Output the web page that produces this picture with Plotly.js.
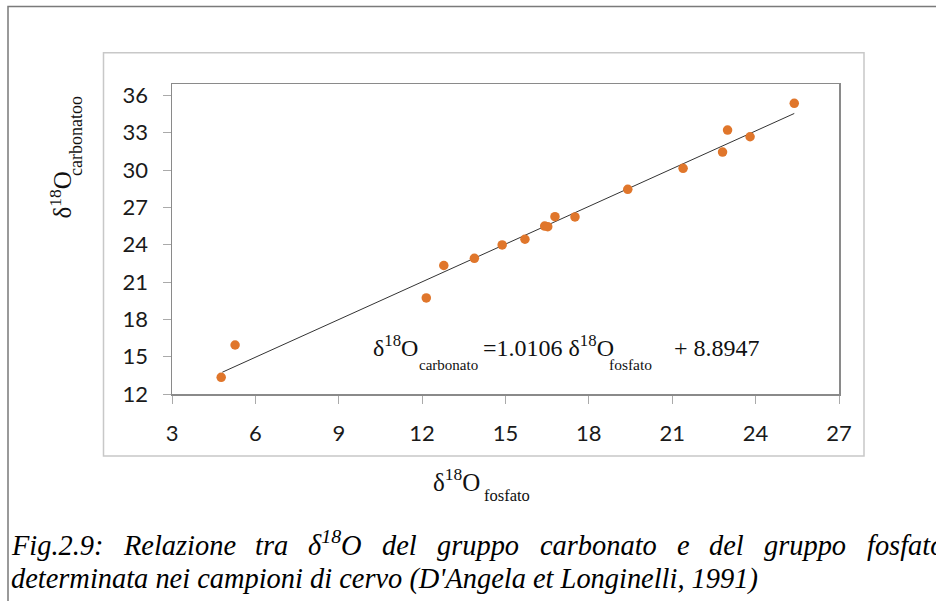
<!DOCTYPE html>
<html>
<head>
<meta charset="utf-8">
<script src="https://cdn.plot.ly/plotly-3.0.1.min.js"></script>
<style>html,body{margin:0;padding:0;background:#fff;}#chart{width:936px;height:601px;}</style>
</head>
<body>
<div id="chart"></div>
<script>
// ---- data ----
const phosphate = [4.77, 5.27, 12.15, 12.78, 13.88, 14.88, 15.70, 16.41, 16.52, 16.78, 17.50, 19.40, 21.39, 22.81, 22.99, 23.80, 25.39];
const carbonate = [13.34, 15.94, 19.72, 22.33, 22.91, 23.98, 24.44, 25.50, 25.45, 26.25, 26.23, 28.45, 30.14, 31.45, 33.22, 32.68, 35.37];
const trendX = [4.81, 25.39];
const trendY = [13.75, 34.55];
const xTicks = [3, 6, 9, 12, 15, 18, 21, 24, 27];
const yTicks = [12, 15, 18, 21, 24, 27, 30, 33, 36];
const captionLine1 = ["Fig.2.9:", "Relazione", "tra", "δ<sup>18</sup>O", "del", "gruppo", "carbonato", "e", "del", "gruppo", "fosfato"];
const captionLine2 = "determinata nei campioni di cervo (D'Angela et Longinelli, 1991)";

// ---- layout geometry (pixels) ----
const L = 172, R = 839, T = 84, B = 394;
const px = x => (x - L) / (R - L);
const py = y => (B - y) / (B - T);
const serif = "Liberation Serif";

function ann(text, x, y, size, opts) {
  return Object.assign({
    text: text, xref: 'paper', yref: 'paper', x: px(x), y: py(y),
    xanchor: 'left', yanchor: 'bottom', showarrow: false, borderpad: 0,
    font: {family: serif, size: size, color: '#111'}
  }, opts || {});
}

const annotations = [
  // regression equation
  ann("δ<sup>18</sup>O", 372, 362.2, 24),
  ann("carbonato", 418, 373.5, 15),
  ann("=1.0106 δ<sup>18</sup>O", 482, 362.2, 24),
  ann("fosfato", 608, 373.5, 15.5),
  ann("+ 8.8947", 673, 362.2, 24),
  // x title
  ann("δ<sup>18</sup>O", 432, 497.4, 25),
  ann("fosfato", 483, 505.6, 16.5),
  // y title (rotated)
  ann("δ<sup>18</sup>O", 77, 220, 25, {textangle: -90, xanchor: 'right', yanchor: 'bottom'}),
  ann("carbonatoo", 87, 177, 18, {textangle: -90, xanchor: 'right', yanchor: 'bottom'}),
];

// ---- caption: justified first line, measured with the same font ----
const ctx = document.createElement('canvas').getContext('2d');
function measure(txt, size) {
  ctx.font = 'italic ' + size + 'px "Liberation Serif"';
  return ctx.measureText(txt).width;
}
function wordWidth(w, size) {
  const m = w.match(/^(.*)<sup>(.*)<\/sup>(.*)$/);
  if (m) return measure(m[1], size) + measure(m[2], size * 0.7) + measure(m[3], size);
  return measure(w, size);
}
const capSize = 28 * 747 / measure(captionLine2, 28);
const capFont = {family: serif, size: capSize, color: '#000'};
const widths = captionLine1.map(w => wordWidth(w, capSize));
const totalW = widths.reduce((a, b) => a + b, 0);
const gap = (943 - 10 - totalW) / (captionLine1.length - 1);
let cx = 10;
captionLine1.forEach((w, i) => {
  annotations.push(ann("<i>" + w + "</i>", cx, 562, capSize, {font: capFont}));
  cx += widths[i] + gap;
});
annotations.push(ann("<i>" + captionLine2 + "</i>", 10, 596, capSize, {font: capFont}));

const shapes = [
  {type: 'rect', xref: 'paper', yref: 'paper', x0: px(8), x1: px(945), y0: py(6.5), y1: py(610),
   line: {color: '#7a7a7a', width: 1.5}, fillcolor: 'rgba(0,0,0,0)', layer: 'below'},
  {type: 'rect', xref: 'paper', yref: 'paper', x0: px(103.5), x1: px(864), y0: py(52.7), y1: py(456),
   line: {color: '#c8c8c8', width: 1.5}, fillcolor: 'rgba(0,0,0,0)', layer: 'below'}
];

const traces = [
  {x: trendX, y: trendY, type: 'scatter', mode: 'lines', line: {color: '#333', width: 1}, hoverinfo: 'skip'},
  {x: phosphate, y: carbonate, type: 'scatter', mode: 'markers', marker: {color: '#E0762B', size: 9.5}}
];

const tickFont = {family: "Lato", size: 22, color: '#1a1a1a'};
const layout = {
  width: 936, height: 601,
  margin: {l: L, r: 936 - R, t: T, b: 601 - B, pad: 0},
  paper_bgcolor: '#fff', plot_bgcolor: '#fff',
  showlegend: false,
  xaxis: {range: [3, 27], tickvals: xTicks, ticktext: xTicks.map(String), showgrid: false, zeroline: false,
          showline: true, mirror: true, linecolor: '#8a8a8a', linewidth: 1.5,
          ticks: 'outside', ticklen: 8, tickcolor: '#aaa', tickwidth: 1, tickfont: tickFont, ticklabelstandoff: 11},
  yaxis: {range: [12, 36.92], tickvals: yTicks, ticktext: yTicks.map(String), showgrid: false, zeroline: false,
          showline: true, mirror: true, linecolor: '#8a8a8a', linewidth: 1.5,
          ticks: 'outside', ticklen: 8, tickcolor: '#aaa', tickwidth: 1, tickfont: tickFont, ticklabelstandoff: 10},
  annotations: annotations,
  shapes: shapes
};

Plotly.newPlot('chart', traces, layout, {displayModeBar: false, staticPlot: true});
</script>
</body>
</html>
